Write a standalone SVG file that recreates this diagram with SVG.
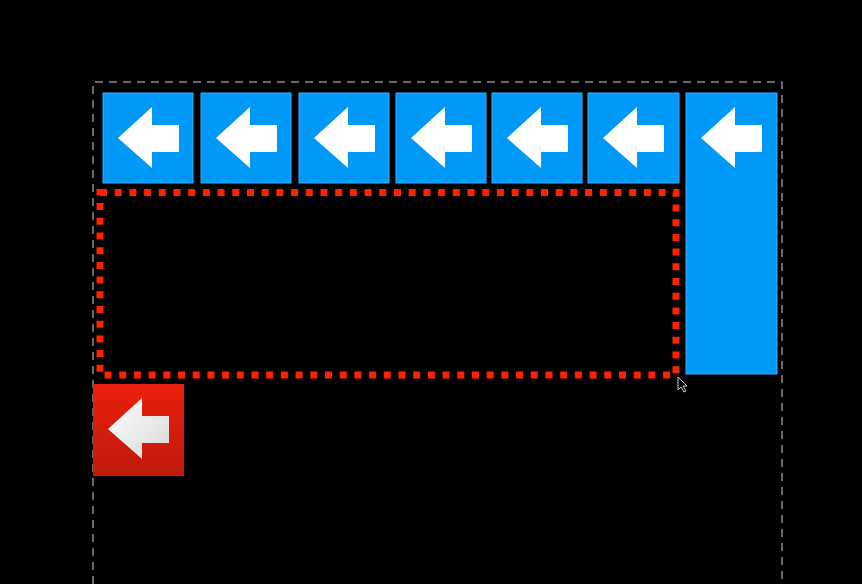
<svg xmlns="http://www.w3.org/2000/svg" width="862" height="584" viewBox="0 0 862 584">
<defs>
<style>
.tile{fill:#0099f8;stroke:#3db0ff;stroke-width:1}
.arrow{fill:#ffffff}
.rarrow{fill:url(#ag)}
</style>
<linearGradient id="rg" x1="0" y1="0" x2="0" y2="1"><stop offset="0" stop-color="#ea200c"/><stop offset="1" stop-color="#c01a0c"/></linearGradient>
<linearGradient id="ag" x1="0" y1="0" x2="1" y2="1"><stop offset="0" stop-color="#ffffff"/><stop offset="1" stop-color="#d8d8d8"/></linearGradient>
<path id="arr" d="M15,45 L49,14 L49,32 L76,32 L76,59 L49,59 L49,75 Z"/>
</defs>
<rect width="862" height="584" fill="#000"/>
<g id="frame">
<path d="M93,584 L93,82 L782,82 L782,584" fill="none" stroke="#d0d0d0" stroke-width="1" stroke-dasharray="8,6"/>
</g>
<g id="tile1"><rect class="tile" x="103" y="93" width="90" height="90"/><use href="#arr" class="arrow" x="103" y="93"/></g>
<g id="tile2"><rect class="tile" x="201" y="93" width="90" height="90"/><use href="#arr" class="arrow" x="201" y="93"/></g>
<g id="tile3"><rect class="tile" x="299" y="93" width="90" height="90"/><use href="#arr" class="arrow" x="299" y="93"/></g>
<g id="tile4"><rect class="tile" x="396" y="93" width="90" height="90"/><use href="#arr" class="arrow" x="396" y="93"/></g>
<g id="tile5"><rect class="tile" x="492" y="93" width="90" height="90"/><use href="#arr" class="arrow" x="492" y="93"/></g>
<g id="tile6"><rect class="tile" x="588" y="93" width="91" height="90"/><use href="#arr" class="arrow" x="588" y="93"/></g>
<g id="tile7"><rect class="tile" x="686" y="93" width="91" height="281"/><use href="#arr" class="arrow" x="686" y="93"/></g>
<g id="selection">
<rect x="100" y="192.5" width="576" height="182.5" fill="none" stroke="#ff2200" stroke-width="7" stroke-dasharray="7,7.7"/>
</g>
<g id="redtile"><rect x="93" y="384" width="91" height="92" fill="url(#rg)"/><use href="#arr" class="rarrow" x="93" y="384"/></g>
<g id="connectors"></g>
<g id="cursor">
<path d="M678,377 L678,390 L681,387 L684,392 L686,391 L683,386 L687,386 Z" fill="#000" stroke="#cccccc" stroke-width="1"/>
</g>
</svg>
